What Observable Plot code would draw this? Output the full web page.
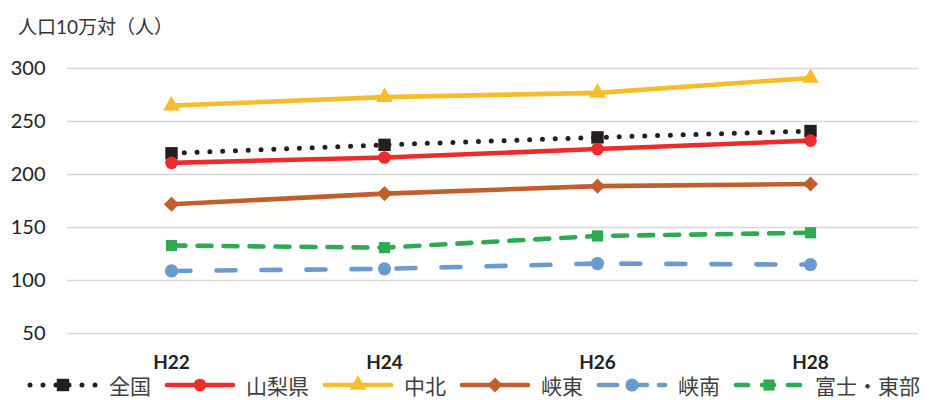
<!DOCTYPE html>
<html>
<head>
<meta charset="utf-8">
<script src="https://cdn.jsdelivr.net/npm/d3@7"></script>
<script src="https://cdn.jsdelivr.net/npm/@observablehq/plot@0.6"></script>
<style>
  body { margin: 0; background: #fff; font-family: Lato, "Noto Sans CJK JP", sans-serif; overflow: hidden; }
  #title { height: 45px; position: relative; }
  #title span { position: absolute; left: 18px; top: 15px; font-size: 19px; color: #333; line-height: 24px; white-space: nowrap; }
  #chart svg { display: block; }
  #legend { height: 26px; margin-top: -3px; display: flex; align-items: center; padding-left: 26px; white-space: nowrap; width: 929px; box-sizing: border-box; }
  #legend .item { display: flex; align-items: center; margin-right: 12px; flex-shrink: 0; }
  #legend svg { flex-shrink: 0; }
  #legend .lab { font-size: 21px; color: #404040; margin-left: 9px; font-family: "Noto Sans CJK JP", sans-serif; line-height: 24px; white-space: nowrap; }
</style>
</head>
<body>
<div id="title"><span>人口10万対（人）</span></div>
<div id="chart"></div>
<div id="legend"></div>
<script>
// ---- data ----
const years = ["H22", "H24", "H26", "H28"];
const seriesNames = ["全国", "山梨県", "中北", "峡東", "峡南", "富士・東部"];
const zenkoku   = [220, 228, 235, 241];
const yamanashi = [211, 216, 224, 232];
const chuhoku   = [265, 273, 277, 291];
const kyoto     = [172, 182, 189, 191];
const kyonan    = [109, 111, 116, 115];
const fujitobu  = [133, 131, 142, 145];
const yTicks = [50, 100, 150, 200, 250, 300];

// ---- styles ----
const seriesValues = [zenkoku, yamanashi, chuhoku, kyoto, kyonan, fujitobu];
const colors  = ["#231f20", "#ee2b2b", "#f5bd2c", "#c15f2c", "#6a9bd0", "#2eab52"];
const dashes  = ["0 12.8", null, null, null, "19 26", "14 12"];
const symbols = ["square", "circle", "triangle", "diamond2", "circle", "square"];
const d3symbols = [d3.symbolSquare, d3.symbolCircle, d3.symbolTriangle, d3.symbolDiamond2, d3.symbolCircle, d3.symbolSquare];
const radii   = [7, 6.3, 6.2, 6.8, 6.6, 6.3];
const widths  = [5, 4.6, 4.6, 4.6, 4.6, 4.6];

const rows = seriesNames.flatMap((s, i) => years.map((y, j) => ({series: s, year: y, value: seriesValues[i][j]})));

const marks = [
  Plot.gridY(yTicks, {stroke: "#d9d9d9", strokeOpacity: 1, strokeWidth: 1.4, insetLeft: 4}),
  Plot.axisY(yTicks, {tickSize: 0, tickPadding: 18, fontSize: 20, label: null, fill: "#222"}),
  Plot.axisX({tickSize: 0, tickPadding: 22, fontSize: 19, fontWeight: "bold", label: null, fill: "#222"})
];
seriesNames.forEach((s, i) => {
  const d = rows.filter(r => r.series === s);
  marks.push(Plot.line(d, {x: "year", y: "value", stroke: colors[i], strokeWidth: widths[i],
    strokeDasharray: dashes[i] || undefined, strokeLinecap: "round", strokeLinejoin: "round"}));
  marks.push(Plot.dot(d, {x: "year", y: "value", symbol: () => symbols[i], r: radii[i], fill: colors[i], stroke: "none"}));
});

const chart = Plot.plot({
  width: 929,
  height: 330,
  marginLeft: 63,
  marginRight: 11,
  marginTop: 23,
  marginBottom: 42,
  x: {type: "point", domain: years, padding: 0.5},
  y: {domain: [50, 300]},
  symbol: {type: "identity"},
  style: {fontFamily: "Lato, 'Noto Sans CJK JP', sans-serif", fontSize: "17px", color: "#222", background: "white", overflow: "visible"},
  marks
});
document.getElementById("chart").appendChild(chart);

// ---- legend ----
const legend = d3.select("#legend");
seriesNames.forEach((s, i) => {
  const item = legend.append("div").attr("class", "item");
  const svg = item.append("svg").attr("width", 74).attr("height", 20);
  svg.append("line").attr("x1", 4).attr("x2", 70).attr("y1", 10).attr("y2", 10)
    .attr("stroke", colors[i]).attr("stroke-width", widths[i])
    .attr("stroke-dasharray", i === 0 ? "0 13" : (i === 4 ? "18 12" : (i === 5 ? "12 14" : null)))
    .attr("stroke-linecap", "round");
  svg.append("path").attr("transform", "translate(37,10)")
    .attr("d", d3.symbol(d3symbols[i], radii[i] * radii[i] * Math.PI)())
    .attr("fill", colors[i]);
  item.append("span").attr("class", "lab").text(s);
});
</script>
</body>
</html>
